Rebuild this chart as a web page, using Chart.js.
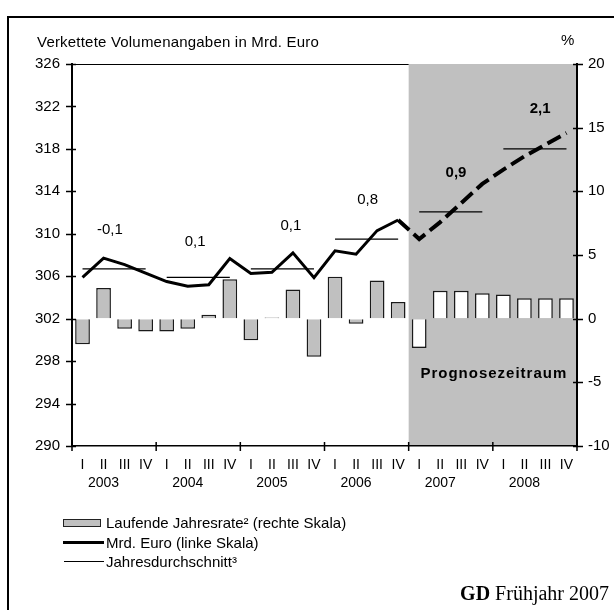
<!DOCTYPE html>
<html>
<head>
<meta charset="utf-8">
<script src="https://cdn.jsdelivr.net/npm/chart.js@4"></script>
<style>
  html, body { margin:0; padding:0; background:#fff; overflow:hidden; }
  body { width:614px; height:610px; position:relative; font-family:"Liberation Sans", Arial, sans-serif; color:#000; }
  #c { position:absolute; left:0; top:0; }
  .frame { position:absolute; left:7px; top:16px; width:800px; height:800px; border-left:2px solid #000; border-top:2px solid #000; }
  .t { position:absolute; white-space:nowrap; line-height:1; }
  .sw { position:absolute; box-sizing:border-box; }
</style>
</head>
<body>
<div class="frame"></div>
<canvas id="c" width="614" height="610"></canvas>
<div class="t" style="left:37px; top:34px; font-size:15px; letter-spacing:0.2px;">Verkettete Volumenangaben in Mrd. Euro</div>
<div class="t" style="left:561px; top:32px; font-size:15px;">%</div>
<div id="legend"></div>
<div class="t" style="right:5px; top:583px; font-family:'Liberation Serif','Times New Roman',serif; font-size:20px;"><b>GD</b> Frühjahr 2007</div>
<script>
// ---- data ----
const quarters = ['I','II','III','IV','I','II','III','IV','I','II','III','IV','I','II','III','IV','I','II','III','IV','I','II','III','IV'];
const years = ['2003','2004','2005','2006','2007','2008'];
const annualRate = [-2.0, 2.4, -0.8, -1.0, -1.0, -0.8, 0.3, 3.1, -1.7, 0.1, 2.3, -3.0, 3.3, -0.4, 3.0, 1.3, -2.3, 2.2, 2.2, 2.0, 1.9, 1.6, 1.6, 1.6];
const levelBn = [305.9, 307.7, 307.1, 306.3, 305.5, 305.05, 305.2, 307.66, 306.25, 306.37, 308.2, 305.87, 308.4, 308.07, 310.3, 311.3, 309.5, 311.1, 312.9, 314.7, 316.05, 317.3, 318.4, 319.5];
const yearAverage = [306.7, 305.9, 306.7, 309.5, 312.06, 318.0];
const yearGrowth = ['-0,1', '0,1', '0,1', '0,8', '0,9', '2,1'];
const leftTicks = [290, 294, 298, 302, 306, 310, 314, 318, 322, 326];
const rightTicks = [-10, -5, 0, 5, 10, 15, 20];
const forecastStart = 16;

// build per-quarter average series from the yearly averages
const avgSeries = quarters.map((q, i) => yearAverage[Math.floor(i / 4)]);

const GREY = '#c0c0c0';
const FONT = '"Liberation Sans", Arial, sans-serif';

// annotation placement (category index, left-scale value), not data
const growthLabelAt = [[1.3, 310.4], [5.35, 309.2], [9.9, 310.7], [13.55, 313.2], [17.75, 315.7], [21.75, 321.75]];

const decor = {
  id: 'decor',
  beforeDraw(chart) {
    const {ctx, chartArea: a, scales: {x}} = chart;
    const half = (x.getPixelForValue(1) - x.getPixelForValue(0)) / 2;
    const x0 = x.getPixelForValue(forecastStart) - half;
    ctx.save();
    ctx.fillStyle = GREY;
    ctx.fillRect(x0, a.top, a.right - x0, a.bottom - a.top);
    ctx.strokeStyle = '#000';
    ctx.lineWidth = 1;
    ctx.beginPath();
    ctx.moveTo(a.left, a.top + 0.5);
    ctx.lineTo(x0, a.top + 0.5);
    ctx.stroke();
    ctx.restore();
  },
  afterDraw(chart) {
    const {ctx, chartArea: a, scales: {x, y, y1}} = chart;
    const half = (x.getPixelForValue(1) - x.getPixelForValue(0)) / 2;
    ctx.save();
    ctx.strokeStyle = '#000';
    ctx.lineWidth = 1.5;
    ctx.beginPath();
    leftTicks.forEach(v => {
      const py = Math.round(y.getPixelForValue(v)) + 0.5;
      ctx.moveTo(a.left - 6, py); ctx.lineTo(a.left + 4, py);
    });
    rightTicks.forEach(v => {
      const py = Math.round(y1.getPixelForValue(v)) + 0.5;
      ctx.moveTo(a.right - 4, py); ctx.lineTo(a.right + 6, py);
    });
    for (let k = 0; k <= years.length; k++) {
      const px = k < years.length ? x.getPixelForValue(k * 4) - half : a.right;
      ctx.moveTo(px, a.bottom - 4); ctx.lineTo(px, a.bottom + 5);
    }
    ctx.stroke();
    // year labels (under the second quarter)
    ctx.fillStyle = '#000';
    ctx.font = '14px ' + FONT;
    ctx.textAlign = 'center';
    ctx.textBaseline = 'middle';
    years.forEach((yr, k) => {
      ctx.fillText(yr, x.getPixelForValue(k * 4 + 1), a.bottom + 37);
    });
    // yearly growth labels
    yearGrowth.forEach((t, k) => {
      const [ci, lv] = growthLabelAt[k];
      const px = x.getPixelForValue(Math.floor(ci)) + (ci - Math.floor(ci)) * 2 * half;
      ctx.font = (k >= 4 ? 'bold ' : '') + '15px ' + FONT;
      ctx.fillText(t, px, y.getPixelForValue(lv));
    });
    // forecast label
    const xs = x.getPixelForValue(forecastStart) - half;
    ctx.font = 'bold 15px ' + FONT;
    try { ctx.letterSpacing = '1px'; } catch (e) {}
    ctx.fillText('Prognosezeitraum', (xs + a.right) / 2 + 1, y1.getPixelForValue(-4.3));
    ctx.restore();
  }
};

const chart = new Chart(document.getElementById('c'), {
  data: {
    labels: quarters,
    datasets: [
      {
        type: 'line', label: 'Mrd. Euro (linke Skala)', data: levelBn, yAxisID: 'y',
        borderColor: '#000', borderWidth: 3, pointRadius: 0, tension: 0, order: 0,
        borderJoinStyle: 'miter',
        segment: {
          borderDash: c => c.p0DataIndex >= forecastStart - 1 ? [15, 6] : undefined,
          borderWidth: c => c.p0DataIndex >= forecastStart - 1 ? 4 : 3
        }
      },
      {
        type: 'line', label: 'Jahresdurchschnitt³', data: avgSeries, yAxisID: 'y',
        borderColor: '#000', borderWidth: 1.2, pointRadius: 0, order: 1,
        segment: { borderColor: c => (c.p0DataIndex % 4 === 3) ? 'rgba(0,0,0,0)' : '#000' }
      },
      {
        type: 'bar', label: 'Laufende Jahresrate² (rechte Skala)', data: annualRate, yAxisID: 'y1',
        backgroundColor: c => c.dataIndex >= forecastStart ? '#ffffff' : GREY,
        borderColor: '#1a1a1a', borderWidth: 1.5, barPercentage: 0.7, categoryPercentage: 1, order: 2
      }
    ]
  },
  options: {
    responsive: false, animation: false, devicePixelRatio: 1,
    layout: { padding: { top: 64, left: 0, right: 0, bottom: 0 } },
    plugins: { legend: { display: false }, tooltip: { enabled: false } },
    scales: {
      x: {
        type: 'category', offset: true,
        grid: { display: true, drawOnChartArea: false, drawTicks: true, tickLength: 7, color: 'rgba(0,0,0,0)' },
        border: { display: true, color: '#000', width: 1.5 },
        ticks: { color: '#000', font: { family: '"Liberation Sans Narrow", "Liberation Sans", Arial, sans-serif', size: 14 }, padding: 4, autoSkip: false, maxRotation: 0 },
        afterFit: s => { s.height = 164; }
      },
      y: {
        position: 'left', min: 290, max: 326,
        afterBuildTicks: s => { s.ticks = leftTicks.map(v => ({ value: v })); },
        grid: { display: true, drawOnChartArea: false, drawTicks: true, tickLength: 6, color: 'rgba(0,0,0,0)' },
        border: { display: true, color: '#000', width: 2 },
        ticks: { color: '#000', font: { family: FONT, size: 15 }, padding: 6 },
        afterFit: s => { s.width = 72; }
      },
      y1: {
        position: 'right', min: -10, max: 20,
        afterBuildTicks: s => { s.ticks = rightTicks.map(v => ({ value: v })); },
        grid: { display: true, drawOnChartArea: false, drawTicks: true, tickLength: 6, color: 'rgba(0,0,0,0)' },
        border: { display: true, color: '#000', width: 2 },
        ticks: { color: '#000', font: { family: FONT, size: 15 }, padding: 5 },
        afterFit: s => { s.width = 37; }
      }
    }
  },
  plugins: [decor]
});

// HTML legend built from the datasets
(function () {
  const L = document.getElementById('legend');
  const rows = [
    { ds: chart.data.datasets[2], top: 515, sw: '<div class="sw" style="left:63px;top:519px;width:38px;height:8px;background:' + GREY + ';border:1.5px solid #222;"></div>' },
    { ds: chart.data.datasets[0], top: 535, sw: '<div class="sw" style="left:63px;top:541px;width:41px;height:3px;background:#000;"></div>' },
    { ds: chart.data.datasets[1], top: 554, sw: '<div class="sw" style="left:64px;top:561px;width:40px;height:1px;background:#000;"></div>' }
  ];
  L.innerHTML = rows.map(r => r.sw + '<div class="t" style="left:106px;top:' + r.top + 'px;font-size:15px;">' + r.ds.label + '</div>').join('');
})();
</script>
</body>
</html>
